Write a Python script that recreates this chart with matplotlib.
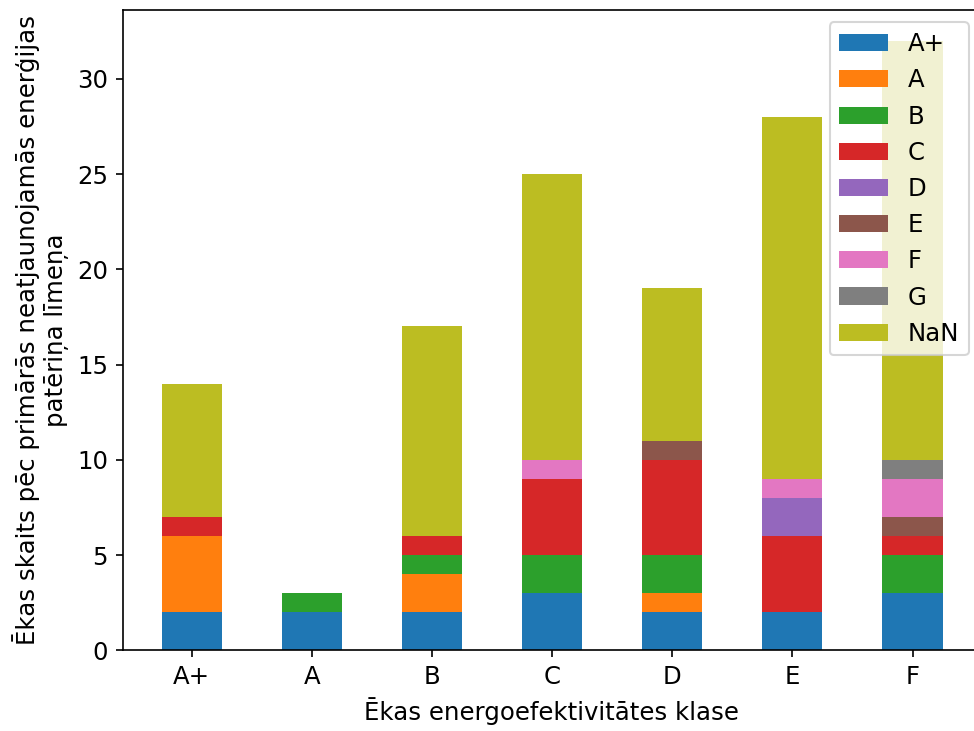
import matplotlib
matplotlib.use("Agg")
import matplotlib.pyplot as plt
import numpy as np
import pandas as pd

categories = ["A+", "A", "B", "C", "D", "E", "F"]
series_names = ["A+", "A", "B", "C", "D", "E", "F", "G", "NaN"]
s_Aplus = [2, 2, 2, 3, 2, 2, 3]
s_A     = [4, 0, 2, 0, 1, 0, 0]
s_B     = [0, 1, 1, 2, 2, 0, 2]
s_C     = [1, 0, 1, 4, 5, 4, 1]
s_D     = [0, 0, 0, 0, 0, 2, 0]
s_E     = [0, 0, 0, 0, 1, 0, 1]
s_F     = [0, 0, 0, 1, 0, 1, 2]
s_G     = [0, 0, 0, 0, 0, 0, 1]
s_NaN   = [7, 0, 11, 15, 8, 19, 22]

df = pd.DataFrame(
    dict(zip(series_names, [s_Aplus, s_A, s_B, s_C, s_D, s_E, s_F, s_G, s_NaN])),
    index=categories,
)

plt.rcParams["font.size"] = 11.7
W, H = 974, 731
fig = plt.figure(figsize=(W / 150, H / 150), dpi=150)
left, right, top, bottom = 122.7, 981, 10.3, 650.3
ax = fig.add_axes([left / W, 1 - bottom / H, (right - left) / W, (bottom - top) / H])
df.plot(kind="bar", stacked=True, ax=ax, rot=0)
ax.set_xlim(-0.575, 6.57)
ax.set_ylim(0, 33.6)
ax.spines["right"].set_visible(False)
ax.set_xlabel("Ēkas energoefektivitātes klase")
ax.set_ylabel("Ēkas skaits pēc primārās neatjaunojamās enerģijas\npatēriņa līmeņa")
ax.legend(loc="upper right")
fig.savefig("out.png", dpi=150)
